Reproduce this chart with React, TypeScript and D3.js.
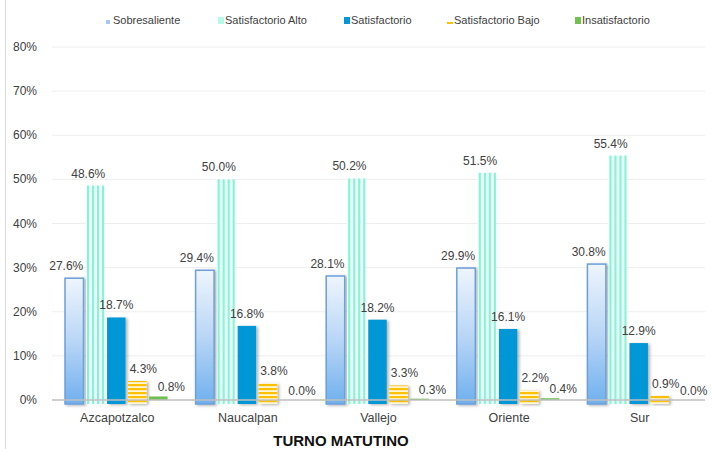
import React from "react";
import * as d3 from "d3";

const categories = ["Azcapotzalco", "Naucalpan", "Vallejo", "Oriente", "Sur"];
const seriesNames = ["Sobresaliente", "Satisfactorio Alto", "Satisfactorio", "Satisfactorio Bajo", "Insatisfactorio"];
const sobresaliente = [27.6, 29.4, 28.1, 29.9, 30.8];
const satisfactorioAlto = [48.6, 50.0, 50.2, 51.5, 55.4];
const satisfactorio = [18.7, 16.8, 18.2, 16.1, 12.9];
const satisfactorioBajo = [4.3, 3.8, 3.3, 2.2, 0.9];
const insatisfactorio = [0.8, 0.0, 0.3, 0.4, 0.0];
const yTicks = [0, 10, 20, 30, 40, 50, 60, 70, 80];
const title = "TURNO MATUTINO";

const seriesValues = [sobresaliente, satisfactorioAlto, satisfactorio, satisfactorioBajo, insatisfactorio];
const fills = ["url(#gSob)", "url(#pAlto)", "#0097d6", "url(#pBajo)", "#70c04f"];
const legendFills = ["#a9c8ef", "#b5fbe6", "#0097d6", "#ffc000", "#70c04f"];
const legendX = [106, 218, 344, 447, 575];
const labelDx = [-8, -7, 0, 6, 13];
const labelDy = [-8, -8, -8, -8, -5];

export default function App() {
  const W = 713, H = 449;
  const x0 = d3.scaleBand<string>().domain(categories).range([52, 705]);
  const x1 = d3.scaleBand<string>().domain(seriesNames).range([13, x0.bandwidth() - 15]).paddingInner(0.12);
  const y = d3.scaleLinear().domain([0, 80]).range([400, 47]);
  const font = "'Liberation Sans', Arial, sans-serif";

  return (
    <svg width={W} height={H} style={{ position: "absolute", left: 0, top: 0, background: "#fff" }} fontFamily={font}>
      <defs>
        <linearGradient id="gSob" x1="0" y1="0" x2="0" y2="1">
          <stop offset="0" stopColor="#eef5fd" />
          <stop offset="0.5" stopColor="#b9d6f6" />
          <stop offset="1" stopColor="#6fb0ee" />
        </linearGradient>
        <pattern id="pAlto" patternUnits="userSpaceOnUse" width="5" height="10">
          <rect width="5" height="10" fill="#effffa" />
          <rect x="0" width="2.2" height="10" fill="#86f2d6" />
        </pattern>
        <pattern id="pBajo" patternUnits="userSpaceOnUse" width="10" height="4" y="400">
          <rect width="10" height="4" fill="#fff6d8" />
          <rect y="0" width="10" height="2.2" fill="#ffc000" />
        </pattern>
        <filter id="sh" x="-30%" y="-10%" width="160%" height="130%">
          <feDropShadow dx="2" dy="1" stdDeviation="1.5" floodColor="#000" floodOpacity="0.3" />
        </filter>
      </defs>
      <line x1={5.5} x2={5.5} y1={0} y2={H} stroke="#d9d9d9" />
      {yTicks.map((t) => (
        <g key={t}>
          {t > 0 && <line x1={52} x2={705} y1={y(t)} y2={y(t)} stroke="#eeeeee" />}
          <text x={37} y={y(t) + 4} textAnchor="end" fontSize={12} fill="#404040">{t}%</text>
        </g>
      ))}
      {categories.map((c, ci) => (
        <g key={c} transform={`translate(${x0(c)},0)`}>
          {seriesNames.map((s, si) => {
            const v = seriesValues[si][ci];
            const bx = x1(s)!;
            const bw = x1.bandwidth();
            const top = y(v);
            const h = 400 - top;
            return (
              <g key={s}>
                {h > 0 && (
                  <rect x={bx} y={top} width={bw} height={h + (si < 4 ? 4 : 0)} fill={fills[si]}
                    stroke={si === 0 ? "#6d9fd8" : "none"} strokeWidth={si === 0 ? 1.5 : 0}
                    filter={si === 1 || si === 4 ? undefined : "url(#sh)"} />
                )}
                <text x={bx + bw / 2 + labelDx[si]} y={top + labelDy[si]} textAnchor="middle" fontSize={12} fill="#404040">
                  {v.toFixed(1)}%
                </text>
              </g>
            );
          })}
          <text x={x0.bandwidth() / 2} y={422} textAnchor="middle" fontSize={12.5} fill="#404040">{c}</text>
        </g>
      ))}
      <line x1={52} x2={705} y1={400} y2={400} stroke="#bfbfbf" strokeWidth={1.5} />
      {seriesNames.map((s, i) => (
        <g key={s}>
          {i === 3 ? (
            <rect x={legendX[i]} y={22} width={6} height={2} fill="#ffc000" />
          ) : (
            <rect x={legendX[i]} y={i === 0 ? 20 : 17} width={i === 0 ? 4 : 6} height={i === 0 ? 4 : 7} fill={legendFills[i]} />
          )}
          <text x={legendX[i] + 7} y={24} fontSize={11} fill="#404040">{s}</text>
        </g>
      ))}
      <text x={341} y={446} textAnchor="middle" fontSize={15} fontWeight="bold" fill="#111">{title}</text>
    </svg>
  );
}
